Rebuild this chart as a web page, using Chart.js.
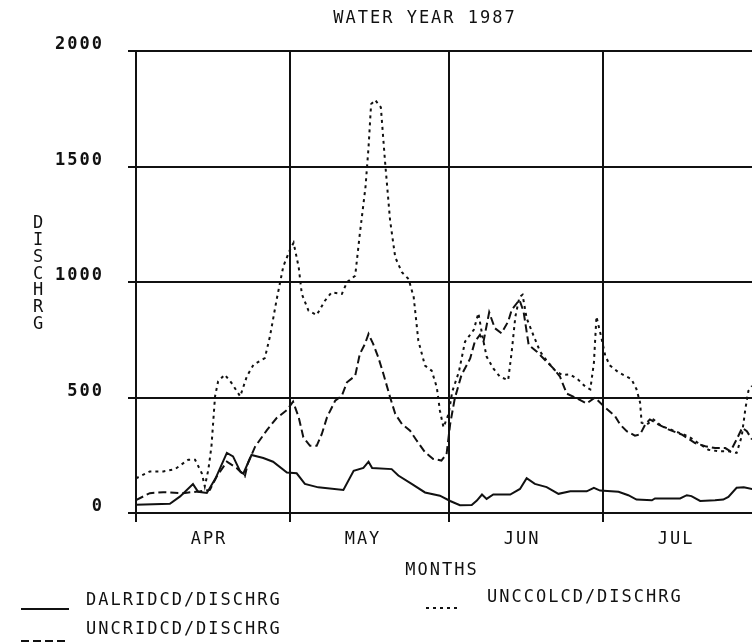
<!DOCTYPE html>
<html>
<head>
<meta charset="utf-8">
<title>Water Year 1987</title>
<script src="https://cdn.jsdelivr.net/npm/chart.js@4/dist/chart.umd.min.js"></script>
<style>
	html, body { margin: 0; padding: 0; background: #fff; overflow: hidden; }
	canvas { display: block; }
</style>
</head>
<body>
<canvas id="chart-discharge" width="752" height="643"></canvas>
<script>
// days counted from April 1, discharge read per gauge
const monthNames = ['APR', 'MAY', 'JUN', 'JUL'];
const monthStarts = [0, 30, 61, 91];
const flowTicks = [0, 500, 1000, 1500, 2000];

const dalDays = [0, 6.6, 8.6, 11.1, 12.1, 13.8, 15.5, 17.7, 18.9, 20.3, 20.9, 22.5, 24.8, 26.7, 29.4, 31.3, 32.9, 35.5, 40.4, 42.4, 44.3, 45.3, 46.0, 49.8, 51.1, 53.7, 56.3, 59.2, 61.2, 63.1, 65.4, 66.4, 67.4, 68.3, 69.6, 72.9, 74.8, 76.1, 77.7, 80.0, 82.3, 84.6, 87.8, 89.2, 90.4, 94.0, 95.9, 97.5, 100.5, 101.1, 106.0, 107.3, 108.2, 109.9, 112.8, 114.4, 115.4, 117.0, 118.4, 120.1];
const dalFlow = [36, 40, 72, 125, 92, 87, 150, 260, 245, 180, 170, 251, 238, 222, 175, 172, 126, 111, 100, 183, 195, 222, 195, 190, 162, 126, 89, 75, 52, 34, 35, 54, 80, 61, 80, 80, 104, 151, 126, 112, 83, 94, 94, 109, 97, 92, 77, 58, 55, 63, 63, 77, 73, 52, 55, 58, 70, 109, 111, 103];

const uncridDays = [0, 2.7, 5.3, 9.2, 12.5, 14.4, 15.7, 17.7, 19.6, 20.6, 21.2, 21.8, 23.2, 25.5, 27.4, 29.4, 30.6, 31.7, 32.6, 33.9, 35.2, 36.2, 37.2, 38.8, 40.1, 41.1, 42.7, 43.6, 44.6, 45.3, 46.2, 47.2, 48.2, 49.5, 50.5, 51.8, 53.4, 54.7, 56.3, 57.9, 59.5, 60.5, 61.2, 62.1, 63.4, 65.1, 66.0, 67.0, 67.7, 68.8, 69.9, 71.2, 72.5, 73.2, 74.7, 75.5, 76.5, 78.1, 80.0, 81.3, 82.6, 83.9, 85.9, 87.8, 89.4, 91.4, 93.3, 94.3, 95.6, 97.2, 98.2, 99.2, 100.1, 101.8, 103.7, 106.3, 108.9, 110.9, 112.8, 114.8, 115.8, 117.0, 118.1, 119.0, 120.0];
const uncridFlow = [56, 86, 90, 86, 94, 100, 157, 222, 195, 173, 159, 216, 287, 359, 411, 446, 482, 414, 328, 291, 291, 342, 414, 486, 508, 566, 594, 688, 732, 775, 732, 674, 602, 501, 429, 385, 356, 313, 263, 234, 227, 255, 385, 496, 597, 669, 742, 771, 742, 869, 800, 778, 829, 880, 923, 872, 727, 698, 655, 626, 590, 517, 496, 474, 500, 456, 420, 383, 354, 335, 340, 383, 405, 383, 362, 340, 303, 289, 281, 281, 267, 318, 369, 354, 318];

const unccolDays = [0, 2.7, 5.3, 7.6, 10.2, 11.5, 12.8, 13.4, 14.1, 14.7, 15.4, 16.0, 17.3, 18.6, 20.3, 21.6, 22.9, 25.1, 26.1, 27.4, 28.7, 30.0, 30.7, 31.7, 32.3, 33.6, 35.2, 36.8, 38.1, 40.1, 41.1, 42.7, 43.6, 44.7, 45.3, 45.8, 46.6, 47.7, 48.5, 49.5, 50.5, 51.8, 53.1, 54.1, 55.0, 56.3, 57.6, 58.6, 59.2, 59.9, 60.9, 61.6, 62.9, 64.1, 65.8, 66.7, 67.5, 68.3, 69.6, 70.9, 72.5, 73.2, 73.9, 74.7, 75.3, 76.1, 77.4, 78.7, 80.0, 81.5, 83.0, 84.5, 86.0, 87.5, 88.5, 89.2, 89.7, 90.7, 91.4, 92.3, 94.0, 96.5, 97.5, 98.2, 98.5, 99.5, 100.8, 102.4, 105.0, 107.6, 109.5, 111.5, 113.5, 115.4, 117.0, 118.0, 118.7, 119.3, 120.0];
const unccolFlow = [150, 180, 180, 190, 231, 231, 173, 115, 188, 289, 505, 570, 599, 563, 505, 592, 642, 671, 765, 924, 1068, 1140, 1170, 1063, 948, 876, 857, 919, 955, 948, 999, 1027, 1208, 1410, 1583, 1770, 1788, 1756, 1525, 1266, 1107, 1042, 1013, 934, 746, 638, 616, 544, 443, 371, 429, 525, 611, 742, 793, 865, 764, 677, 626, 590, 575, 700, 850, 935, 945, 843, 770, 700, 660, 620, 597, 600, 580, 548, 535, 650, 850, 755, 682, 639, 609, 580, 536, 478, 391, 383, 405, 376, 354, 332, 303, 274, 267, 267, 260, 332, 449, 529, 550];

const ink = '#111';
const plotFont = { family: '"DejaVu Sans Mono", monospace', size: 17 };

function toPoints(days, flows) {
	return days.map((d, i) => ({ x: d, y: flows[i] }));
}

// legend entries sit under the plot in two columns
const legendSpots = [
	{ lineFrom: 21, lineTo: 69, textX: 86, textY: 601, lineY: 609 },
	{ lineFrom: 21, lineTo: 69, textX: 86, textY: 630, lineY: 641 },
	{ lineFrom: 426, lineTo: 457, textX: 487, textY: 598, lineY: 608 }
];

const plotterText = {
	id: 'plotterText',
	beforeDraw(chart) {
		chart.ctx.letterSpacing = '2px';
	},
	afterDraw(chart) {
		const ctx = chart.ctx;
		ctx.save();
		ctx.letterSpacing = '2px';
		ctx.fillStyle = ink;
		ctx.strokeStyle = ink;
		ctx.font = `17px ${plotFont.family}`;
		ctx.textBaseline = 'middle';
		ctx.textAlign = 'center';
		ctx.fillText('WATER YEAR 1987', 425, 19);
		ctx.fillText('MONTHS', 442, 571);
		// y title is stacked letter by letter
		'DISCHRG'.split('').forEach((ch, i) => ctx.fillText(ch, 39, 224 + i * 16.7));

		ctx.textAlign = 'left';
		chart.data.datasets.forEach((ds, i) => {
			const spot = legendSpots[i];
			ctx.fillText(ds.label, spot.textX, spot.textY);
			ctx.lineWidth = ds.borderWidth;
			ctx.setLineDash(ds.borderDash || []);
			ctx.beginPath();
			ctx.moveTo(spot.lineFrom, spot.lineY);
			ctx.lineTo(spot.lineTo, spot.lineY);
			ctx.stroke();
		});
		ctx.restore();
	}
};

const canvasFlow = document.getElementById('chart-discharge').getContext('2d');

let chartFlow = new Chart(canvasFlow, {
	type: 'line',
	data: {
		datasets: [{
			label: 'DALRIDCD/DISCHRG',
			data: toPoints(dalDays, dalFlow),
			borderColor: ink,
			borderWidth: 2,
			borderDash: [],
			pointRadius: 0,
			tension: 0,
		}, {
			label: 'UNCRIDCD/DISCHRG',
			data: toPoints(uncridDays, uncridFlow),
			borderColor: ink,
			borderWidth: 2,
			borderDash: [8, 4],
			pointRadius: 0,
			tension: 0,
		}, {
			label: 'UNCCOLCD/DISCHRG',
			data: toPoints(unccolDays, unccolFlow),
			borderColor: ink,
			borderWidth: 2,
			borderDash: [3, 4],
			pointRadius: 0,
			tension: 0,
		}]
	},
	options: {
		responsive: false,
		animation: false,
		events: [],
		layout: {
			padding: { top: 51, left: 0, right: 0, bottom: 0 }
		},
		plugins: {
			legend: { display: false },
			title: { display: false },
			tooltip: { enabled: false }
		},
		scales: {
			x: {
				type: 'linear',
				min: 0,
				max: 120,
				afterBuildTicks: (scale) => { scale.ticks = monthStarts.map(v => ({ value: v })); },
				afterFit: (scale) => { scale.height = 130; },
				grid: { color: ink, lineWidth: 2, tickLength: 9 },
				border: { color: ink, width: 2 },
				ticks: {
					color: ink,
					font: plotFont,
					padding: 7,
					labelOffset: 73,
					maxRotation: 0,
					autoSkip: false,
					callback: (value) => monthNames[monthStarts.indexOf(value)]
				}
			},
			y: {
				min: 0,
				max: 2000,
				afterBuildTicks: (scale) => { scale.ticks = flowTicks.map(v => ({ value: v })); },
				afterFit: (scale) => { scale.width = 136; },
				grid: { color: ink, lineWidth: 2, tickLength: 8 },
				border: { color: ink, width: 2 },
				ticks: {
					color: ink,
					font: { ...plotFont, weight: 'bold' },
					padding: 24,
					labelOffset: -6,
					callback: (value) => String(value)
				}
			}
		}
	},
	plugins: [plotterText]
});
</script>
</body>
</html>
